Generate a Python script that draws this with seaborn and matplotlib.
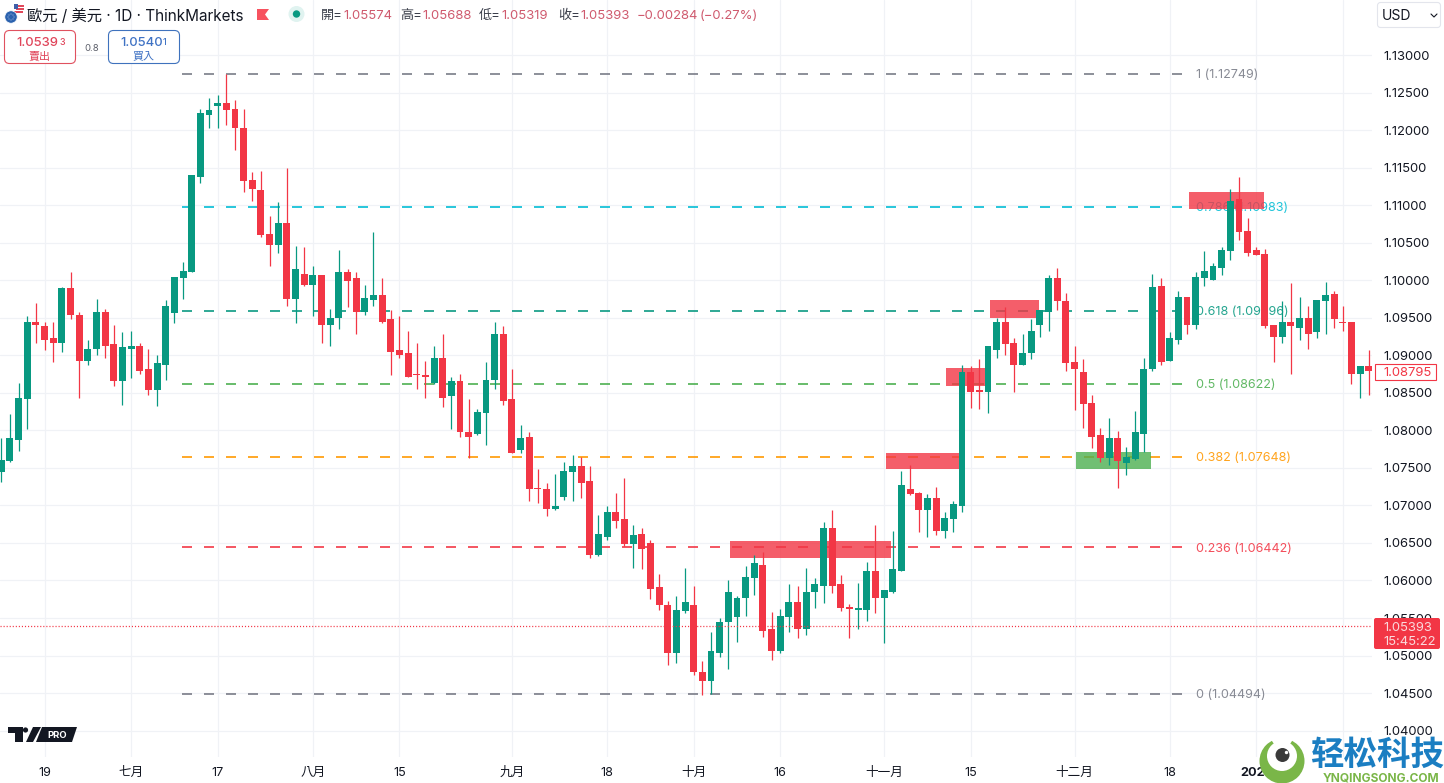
import numpy as np
import pandas as pd
import matplotlib
matplotlib.use("Agg")
import matplotlib.pyplot as plt
from matplotlib.patches import Rectangle, Circle, Polygon, FancyBboxPatch
import seaborn as sns

# ---------- data ----------
opens = [1.07452,1.07598,1.07878,1.08412,1.09451,1.09385,1.09225,1.09171,1.09904,1.09544,1.08931,1.09078,1.09571,1.09145,1.08652,1.09078,1.09118,1.08812,1.08532,1.08878,
1.09558,1.10037,1.10117,1.11383,1.12209,1.12316,1.12356,1.12276,1.12036,1.11330,1.11197,1.10623,1.10477,1.10770,1.09757,1.10090,1.09944,1.10064,1.09411,1.09491,
1.10104,1.10024,1.09571,1.09744,1.09810,1.09478,1.09065,1.09025,1.08745,1.08732,1.08625,1.08971,1.08452,1.08652,1.07972,1.07958,
1.08238,1.08665,1.09291,1.08412,1.07745,1.07918,1.07239,1.07225,1.06959,1.07119,1.07452,1.07519,1.07332,1.06333,1.06573,1.06919,1.06813,1.06480,1.06613,1.06493,
1.05907,1.05680,1.05040,1.05600,1.05680,1.04787,1.04667,1.05040,1.05453,1.05520,1.05773,1.06027,1.06213,1.05347,1.05067,1.05520,1.05720,1.05360,1.05840,1.05933,
1.06693,1.05947,1.05653,1.05613,1.05613,1.06133,1.05760,1.05853,1.06133,1.07225,1.07172,1.06933,1.07105,1.06653,1.06813,1.06999,1.08772,1.08532,1.08505,1.09065,
1.09438,1.09158,1.08865,1.09025,1.09411,1.09571,1.10037,1.09718,1.08905,1.08772,1.08371,1.07932,1.07638,1.07905,1.07559,1.07625,1.07958,1.08812,1.09930,1.08931,
1.09211,1.09784,1.09411,1.10037,1.10010,1.10170,1.10397,1.11077,1.10663,1.10410,1.10357,1.09411,1.09238,1.09451,1.09358,1.09491,1.09305,1.09718,1.09824,1.09451,
1.09438,1.08758,1.08852]
highs = [1.07892,1.08225,1.08625,1.09518,1.09704,1.09451,1.09451,1.09917,1.10117,1.09571,1.09198,1.09757,1.09611,1.09411,1.09305,1.09331,1.09158,1.09078,1.08998,1.09731,
1.10050,1.10250,1.11397,1.12289,1.12435,1.12475,1.12749,1.12396,1.12276,1.11437,1.11463,1.10863,1.11050,1.11490,1.10463,1.10450,1.10184,1.10064,1.09624,1.10410,
1.10144,1.10104,1.09944,1.10637,1.10037,1.09598,1.09518,1.09331,1.09171,1.08931,1.09131,1.09291,1.08705,1.08758,1.08412,1.08291,
1.08918,1.09438,1.09385,1.08812,1.08078,1.07972,1.07479,1.07305,1.07425,1.07585,1.07678,1.07652,1.07519,1.06866,1.06986,1.07172,1.07359,1.06733,1.06706,1.06546,
1.06080,1.05733,1.05787,1.06160,1.05920,1.04933,1.05320,1.05506,1.06000,1.05787,1.06187,1.06346,1.06386,1.05586,1.05626,1.05947,1.05933,1.06160,1.06027,1.06773,
1.06933,1.06067,1.05693,1.05960,1.06253,1.06733,1.05867,1.06666,1.07465,1.07545,1.07185,1.07159,1.07252,1.06919,1.07053,1.08865,1.08852,1.08945,1.09131,1.09504,
1.09638,1.09225,1.09291,1.09478,1.09598,1.10077,1.10170,1.09837,1.09118,1.08945,1.08465,1.08038,1.08171,1.07998,1.07785,1.08265,1.08958,1.10090,1.10024,1.09305,
1.09864,1.09784,1.10117,1.10397,1.10224,1.10450,1.11223,1.11383,1.10836,1.10450,1.10423,1.09411,1.09718,1.09970,1.09784,1.09651,1.09731,1.09984,1.09864,1.09664,
1.09438,1.08852,1.09065]
lows = [1.07319,1.07585,1.07732,1.08025,1.09171,1.09065,1.08918,1.09051,1.09478,1.08438,1.08865,1.09011,1.08958,1.08585,1.08345,1.08692,1.08758,1.08478,1.08331,1.08665,
1.09425,1.09757,1.10104,1.11290,1.12036,1.12023,1.12076,1.11730,1.11170,1.11063,1.10583,1.10197,1.10370,1.09651,1.09425,1.09930,1.09518,1.09171,1.09118,1.09345,
1.09638,1.09278,1.09544,1.09664,1.09425,1.08732,1.08958,1.08705,1.08558,1.08438,1.08612,1.08318,1.08012,1.07918,1.07638,1.07932,
1.07812,1.08545,1.08345,1.07705,1.07705,1.07053,1.07026,1.06853,1.06933,1.07066,1.07053,1.07105,1.06306,1.06320,1.06533,1.06706,1.06466,1.06160,1.06147,1.05747,
1.05613,1.04880,1.04907,1.05573,1.04747,1.04480,1.04494,1.04987,1.04827,1.05187,1.05533,1.05813,1.05253,1.04947,1.05040,1.05320,1.05227,1.05280,1.05640,1.05706,
1.05827,1.05600,1.05227,1.05347,1.05466,1.05573,1.05173,1.05827,1.06133,1.07145,1.06640,1.06586,1.06600,1.06560,1.06640,1.06919,1.08305,1.08291,1.08238,1.08971,
1.08998,1.08518,1.08865,1.08945,1.09238,1.09331,1.09598,1.08785,1.08278,1.08038,1.07772,1.07585,1.07545,1.07239,1.07412,1.07612,1.07718,1.08798,1.08878,1.08931,
1.09145,1.09291,1.09345,1.09930,1.10010,1.10077,1.10277,1.10543,1.10330,1.10343,1.09371,1.08918,1.09158,1.08758,1.09211,1.09091,1.09225,1.09291,1.09358,1.09331,
1.08612,1.08438,1.08465]
closes = [1.07612,1.07892,1.08425,1.09438,1.09398,1.09211,1.09171,1.09904,1.09531,1.08931,1.09091,1.09571,1.09131,1.08652,1.09105,1.09118,1.08798,1.08532,1.08892,1.09664,
1.10050,1.10130,1.11397,1.12223,1.12263,1.12369,1.12263,1.12023,1.11317,1.11223,1.10610,1.10477,1.10770,1.09757,1.10157,1.09944,1.10064,1.09411,1.09504,1.10104,
1.09997,1.09571,1.09770,1.09810,1.09451,1.09051,1.09011,1.08718,1.08732,1.08705,1.08971,1.08438,1.08652,1.07972,1.07918,1.08251,
1.08678,1.09291,1.08398,1.07705,1.07905,1.07225,1.07225,1.06959,1.06999,1.07465,1.07519,1.07305,1.06333,1.06613,1.06919,1.06799,1.06480,1.06600,1.06413,1.05893,
1.05680,1.05040,1.05613,1.05720,1.04774,1.04667,1.05067,1.05453,1.05840,1.05773,1.06040,1.06227,1.05333,1.05067,1.05533,1.05720,1.05360,1.05853,1.05947,1.06693,
1.05933,1.05640,1.05626,1.05640,1.06133,1.05760,1.05867,1.06147,1.07279,1.07159,1.06933,1.07105,1.06653,1.06839,1.07013,1.08772,1.08518,1.08518,1.09118,1.09438,
1.09145,1.08865,1.09025,1.09318,1.09598,1.10037,1.09718,1.08892,1.08812,1.08358,1.07918,1.07638,1.07892,1.07598,1.07652,1.07972,1.08812,1.09917,1.08918,1.09225,
1.09784,1.09411,1.10050,1.10130,1.10184,1.10410,1.11063,1.10650,1.10370,1.10343,1.09385,1.09238,1.09451,1.09385,1.09491,1.09291,1.09731,1.09810,1.09478,1.09425,
1.08758,1.08852,1.08795]

fib_ratios = ["1", "0.786", "0.618", "0.5", "0.382", "0.236", "0"]
fib_prices = [1.12749, 1.10983, 1.09596, 1.08622, 1.07648, 1.06442, 1.04494]
fib_colors = ["#787B86", "#00BCD4", "#089981", "#4CAF50", "#FF9800", "#F23645", "#787B86"]
fib_start, fib_end = 20.9, 136.9

zone_left = [137.2, 114.2, 109.1, 102.2, 84.2, 124.2]
zone_right = [145.9, 119.9, 113.7, 110.65, 102.8, 132.8]
zone_top = [1.11183, 1.09731, 1.08825, 1.07705, 1.06520, 1.07718]
zone_bottom = [1.10956, 1.09504, 1.08598, 1.07479, 1.06293, 1.07492]
zone_colors = ["#F23645"] * 5 + ["#4CAF50"]

date_ticks = [5, 15, 25, 36, 46, 59, 70, 80, 90, 102, 112, 124, 135, 145, 155]
date_labels = ["19", "七月", "17", "八月", "15", "九月", "18", "十月", "16", "十一月", "15", "十二月", "18", "2025", ""]
price_ticks = [1.04, 1.045, 1.05, 1.055, 1.06, 1.065, 1.07, 1.075, 1.08, 1.085, 1.09, 1.095,
               1.10, 1.105, 1.11, 1.115, 1.12, 1.125, 1.13]
last_bid = 1.05393

UP, DOWN = "#089981", "#F23645"
GRID = "#F0F2F6"
INK = "#131722"

# ---------- theme ----------
sns.set_theme(style="white")
FONT = ["Inter", "Noto Sans CJK TC", "DejaVu Sans"]
plt.rcParams["font.family"] = FONT
plt.rcParams["lines.scale_dashes"] = False
PX = 0.72  # points per pixel at dpi 100

W, H = 1444, 783
AX_R, AX_B = 1372, 757
fig = plt.figure(figsize=(W / 100, H / 100), dpi=100, facecolor="white")
ax = fig.add_axes([0, 1 - AX_B / H, AX_R / W, AX_B / H])
ax.set_facecolor("white")

df = pd.DataFrame({"i": np.arange(len(opens)), "o": opens, "h": highs, "l": lows, "c": closes})
df["top"] = df[["o", "c"]].max(axis=1)
df["bot"] = df[["o", "c"]].min(axis=1)
df["up"] = df["c"] >= df["o"]

# fib levels
for r, p, col in zip(fib_ratios, fib_prices, fib_colors):
    sns.lineplot(x=[fib_start, fib_end], y=[p, p], color=col, ax=ax, linewidth=1.5 * PX * 1.1,
                 linestyle=(0, (10 * PX, 12 * PX)), dash_capstyle="butt", zorder=2)
    ax.text(138.0, p, f"{r} ({p:.5f})", color=col, alpha=0.88, fontsize=12.6 * PX,
            va="center_baseline", ha="left", zorder=2)

# zones
for l, r, t, b, col in zip(zone_left, zone_right, zone_top, zone_bottom, zone_colors):
    ax.add_patch(Rectangle((l, b), r - l, t - b, facecolor=col, alpha=0.8, edgecolor="none", zorder=2.5))

# candles
for is_up, col in [(True, UP), (False, DOWN)]:
    d = df[df["up"] == is_up]
    ax.vlines(d["i"], d["l"], d["h"], color=col, linewidth=0.9, zorder=3)
    sns.barplot(x=d["i"].to_numpy(), y=(d["top"] - d["bot"]).to_numpy(), bottom=d["bot"].to_numpy(),
                native_scale=True, color=col, saturation=1, width=0.8, errorbar=None,
                linewidth=0, ax=ax, zorder=3.1)

ax.axhline(last_bid, color=DOWN, linewidth=0.9, linestyle=(0, (0.8, 1.4)), zorder=3.2)

x0 = -1.3 / 8.655
ax.set_xlim(x0, x0 + AX_R / 8.655)
ax.set_ylim(1.13735 - AX_B * 0.00013325, 1.13735)
ax.set_xticks(date_ticks)
ax.set_xticklabels(date_labels)
ax.set_yticks(price_ticks)
ax.set_yticklabels([f"{v:.5f}" for v in price_ticks])
ax.yaxis.tick_right()
ax.tick_params(axis="x", length=0, pad=7, labelsize=12.6 * PX, colors=INK)
ax.tick_params(axis="y", length=0, pad=8, labelsize=13 * PX, colors=INK)
for t in ax.get_yticklabels():
    t.set_va("center_baseline")
for t in ax.get_xticklabels():
    if t.get_text() == "2025":
        t.set_fontweight("bold")
ax.set_xlabel("")
ax.set_ylabel("")
ax.grid(True, color=GRID, linewidth=1.0 * PX * 1.2, zorder=0.5)
ax.set_axisbelow(True)
for s in ax.spines.values():
    s.set_visible(False)

# ---------- chart chrome in pixel coordinates ----------
ov = fig.add_axes([0, 0, 1, 1], zorder=5)
ov.set_xlim(0, W)
ov.set_ylim(H, 0)
ov.axis("off")
ov.patch.set_alpha(0)


def txt(x, y, s, size, color=INK, ha="left", va="center_baseline", weight="normal", **kw):
    return ov.text(x, y, s, fontsize=size * PX, color=color, ha=ha, va=va, fontweight=weight, **kw)


# header
txt(27, 14.5, "歐元 / 美元 · 1D · ThinkMarkets", 15.3)
ov.add_patch(Circle((18.5, 9), 5.5, fc="white", ec="none"))
ov.add_patch(Rectangle((14, 5), 10, 1.6, fc="#E0485A", ec="none"))
ov.add_patch(Rectangle((16, 8.2), 8, 1.6, fc="#E0485A", ec="none"))
ov.add_patch(Rectangle((14, 11.4), 9, 1.6, fc="#E0485A", ec="none"))
ov.add_patch(Rectangle((13.5, 4), 4.5, 4.5, fc="#3F5FA8", ec="none"))
ov.add_patch(Circle((11, 17), 6.2, fc="#2B62AE", ec="white", lw=0.5))
for dx, dy in [(-3, 0), (3, 0), (0, -3), (0, 3), (-2, -2), (2, -2), (-2, 2), (2, 2)]:
    ov.add_patch(Circle((11 + dx, 17 + dy), 0.5, fc="#C9D8F0", ec="none"))
ov.add_patch(Polygon([(257, 9), (269, 9), (265, 14.5), (269, 20), (257, 20)], fc="#F7525F", ec="none"))
ov.add_patch(Circle((296.5, 14), 8, fc="#E0F3F0", ec="none"))
ov.add_patch(Circle((296.5, 14), 3.7, fc=UP, ec="none"))

VAL = "#CF5A6E"
for x, s, c in [(321, "開=", "#3A3E4A"), (343, "1.05574", VAL), (400, "高=", "#3A3E4A"), (422, "1.05688", VAL),
                (479, "低=", "#3A3E4A"), (501, "1.05319", VAL), (558, "收=", "#3A3E4A"), (580, "1.05393", VAL),
                (637, "−0.00284", VAL), (700, "(−0.27%)", VAL)]:
    txt(x, 14.5, s, 13.1, color=c)

# quote boxes
ov.add_patch(FancyBboxPatch((4.5, 30.5), 71, 33, boxstyle="round,pad=0,rounding_size=5", fc="white", ec="#E0515F", lw=0.8))
ov.add_patch(FancyBboxPatch((108.5, 30.5), 71, 33, boxstyle="round,pad=0,rounding_size=5", fc="white", ec="#3F72BD", lw=0.8))
txt(16, 41, "1.0539", 13, color="#E0455A", weight="medium")
txt(59, 41.5, "3", 9, color="#E0455A", weight="medium")
txt(39.5, 55.5, "賣出", 11, color="#E0455A", ha="center")
txt(120, 41, "1.0540", 13, color="#3F72C4", weight="medium")
txt(163, 41.5, "1", 9, color="#3F72C4", weight="medium")
txt(143.5, 55.5, "買入", 11, color="#3F72C4", ha="center")
txt(92, 47.5, "0.8", 9.5, color="#5D606B", ha="center")

# currency selector
ov.add_patch(FancyBboxPatch((1377.5, 2.5), 63, 25, boxstyle="round,pad=0,rounding_size=3", fc="white", ec="#E3E5EC", lw=0.8))
txt(1382, 15, "USD", 14)
ov.plot([1431, 1434, 1437], [14, 17, 14], color=INK, lw=0.8)

# price tags
ov.add_patch(Rectangle((1374.5, 363.5), 61, 16, fc="white", ec="#F23645", lw=0.8))
txt(1383, 372, "1.08795", 13, color="#F23645")
ov.add_patch(FancyBboxPatch((1374, 618), 66, 31, boxstyle="round,pad=0,rounding_size=2", fc="#F23645", ec="none"))
txt(1383, 626.5, "1.05393", 13, color="#FAD9DC")
txt(1383, 640.5, "15:45:22", 13, color="#FAD9DC")

# TV PRO logo
ov.add_patch(Polygon([(8, 727), (23, 727), (23, 742), (15, 742), (15, 733), (8, 733)], fc="#131722", ec="none"))
ov.add_patch(Circle((25.5, 730), 2.6, fc="#131722", ec="none"))
ov.add_patch(Polygon([(33, 727), (41, 727), (33, 742), (26, 742)], fc="#131722", ec="none"))
ov.add_patch(Polygon([(42, 727), (77, 727), (72, 742), (36, 742)], fc="#131722", ec="none"))
txt(57, 735, "PRO", 9.5, color="white", ha="center", weight="bold")

# watermark
ov.add_patch(Circle((1282, 761), 22.5, fc="#7AB648", ec="none"))
ov.add_patch(Circle((1282, 756), 15, fc="white", ec="none"))
ov.add_patch(Polygon([(1282, 756), (1268, 735), (1296, 735)], fc="white", ec="none"))
ov.add_patch(Circle((1282.5, 755), 7, fc="#3A3A3A", ec="none"))
ov.add_patch(Circle((1286.5, 752.5), 1.7, fc="white", ec="none"))
ov.text(1377, 755, "轻松科技", fontsize=33.5 * PX, color="#1B7EC2", ha="center", va="center", fontweight="bold",
        family=["Noto Sans CJK SC", "DejaVu Sans"])
txt(1381, 777, "YNQINGSONG.COM", 12, color="#7AB648", ha="center", weight="bold")

fig.savefig("out.png", dpi=100, facecolor="white")
